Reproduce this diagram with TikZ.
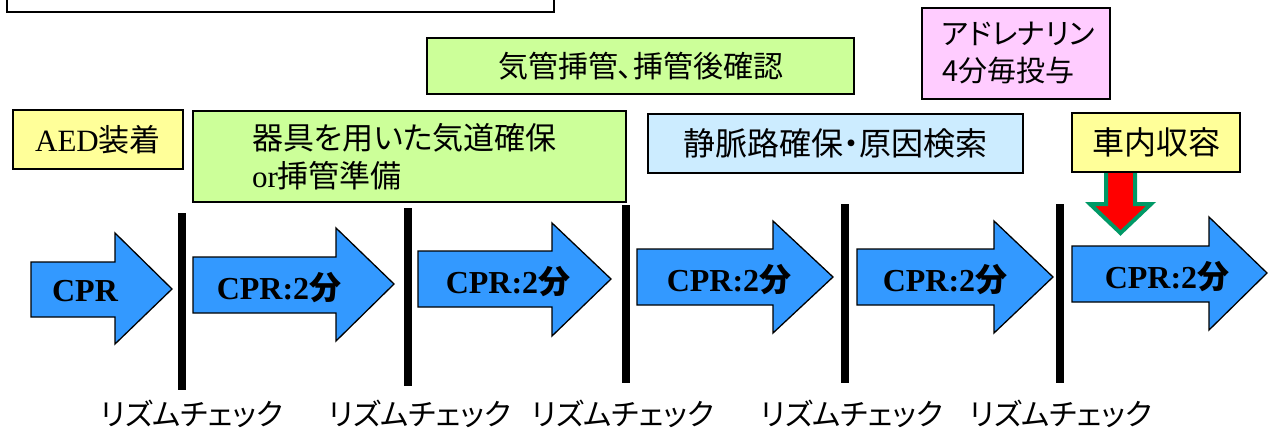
\documentclass[tikz,border=0pt]{standalone}
\usepackage{fontspec}
\setmainfont{Liberation Serif}
\newfontfamily\cjk[RawFeature=+palt]{Noto Sans CJK JP}
\definecolor{cprblue}{HTML}{3399FF}
\definecolor{lgreen}{HTML}{CCFF99}
\definecolor{lyellow}{HTML}{FFFF99}
\definecolor{lblue}{HTML}{CCECFF}
\definecolor{lpink}{HTML}{FFCCFF}
\definecolor{arrowgreen}{HTML}{009966}
\newcommand\cprarrow[8]{\draw[blockarrow] (#1,#2) -- (#4,#2) -- (#4,#5) -- (#7,#8) -- (#4,#6) -- (#4,#3) -- (#1,#3) -- cycle;}
\tikzset{
  box/.style={draw=black, line width=1.6pt, inner sep=0pt, font=\cjk\fontsize{31}{38}\selectfont},
  blockarrow/.style={fill=cprblue, draw=black, line width=1.3pt, line join=miter},
  cprtext/.style={font=\bfseries\fontsize{32}{36}\selectfont, inner sep=0pt},
  bar/.style={line width=8pt, black},
  lbl/.style={font=\cjk\fontsize{30}{34}\selectfont, inner sep=0pt},
  downarrow/.style={fill=red, draw=arrowgreen, line width=4pt, line join=miter}
}
\begin{document}
\begin{tikzpicture}[x=1pt,y=-1pt]
\useasboundingbox (0,0) rectangle (1271,440);
\clip (0,0) rectangle (1271,440);
\fill[white] (0,0) rectangle (1271,440);

% top-left (cut-off) box
\node[box, fill=white, minimum width=547pt, minimum height=60pt, anchor=south west] (title) at (6,13) {};

% task boxes
\node[box, fill=lgreen, minimum width=427pt, minimum height=56pt, font=\cjk\fontsize{30}{36}\selectfont] (intub) at (640.5,66) {気管挿管、挿管後確認};
\node[box, fill=lpink, minimum width=188pt, minimum height=91pt, inner xsep=20pt, text width=148pt, align=left, font=\cjk\fontsize{29}{37}\selectfont] (adr) at (1016,53.5) {アドレナリン\\4分毎投与};
\node[box, fill=lyellow, minimum width=170pt, minimum height=59pt] (aed) at (98,139.5) {{\rmfamily\fontsize{31}{36}\selectfont AED}装着};
\node[box, fill=lgreen, minimum width=433pt, minimum height=91pt, inner xsep=59pt, text width=315pt, align=left, font=\cjk\fontsize{31}{38}\selectfont] (airway) at (409.5,156.5) {器具を用いた気道確保\\{\rmfamily\fontsize{31}{38}\selectfont or}挿管準備};
\node[box, fill=lblue, minimum width=375pt, minimum height=59pt, font=\cjk\fontsize{32}{38}\selectfont] (iv) at (835.5,143.5) {静脈路確保・原因検索};

% transport arrow (drawn before its box so the box covers its top)
\draw[downarrow] (1106,168) -- (1106,204) -- (1090,204) -- (1120.5,233) -- (1151,204) -- (1135,204) -- (1135,168) -- cycle;
\node[box, fill=lyellow, minimum width=168pt, minimum height=59pt, font=\cjk\fontsize{32}{38}\selectfont] (car) at (1156,142.5) {車内収容};

% CPR arrows
\cprarrow{31}{262}{317}{115}{233}{344}{172}{289}
\cprarrow{193}{257}{313}{336}{228}{341}{394}{284}
\cprarrow{418}{251}{307}{552}{223}{336}{611}{279}
\cprarrow{637}{249}{305}{773}{221}{333}{833}{277}
\cprarrow{857}{249}{305}{994}{221}{333}{1053}{277}
\cprarrow{1072}{246}{302}{1209}{217}{330}{1267}{273}

\node[cprtext] (c1) at (85,291) {CPR};
\node[cprtext] (c2) at (279,288) {CPR:2{\cjk\bfseries 分}};
\node[cprtext] (c3) at (508,282) {CPR:2{\cjk\bfseries 分}};
\node[cprtext] (c4) at (729,280) {CPR:2{\cjk\bfseries 分}};
\node[cprtext] (c5) at (945,280) {CPR:2{\cjk\bfseries 分}};
\node[cprtext] (c6) at (1167,277) {CPR:2{\cjk\bfseries 分}};

% rhythm-check bars
\draw[bar] (182,213) -- (182,390);
\draw[bar] (408,208) -- (408,386);
\draw[bar] (626,205) -- (626,383);
\draw[bar] (845,204) -- (845,383);
\draw[bar] (1060,204) -- (1060,383);

% labels
\node[lbl] (r1) at (192,414) {リズムチェック};
\node[lbl] (r2) at (420,414) {リズムチェック};
\node[lbl] (r3) at (623,414) {リズムチェック};
\node[lbl] (r4) at (852,414) {リズムチェック};
\node[lbl] (r5) at (1061,414) {リズムチェック};
\end{tikzpicture}
\end{document}
